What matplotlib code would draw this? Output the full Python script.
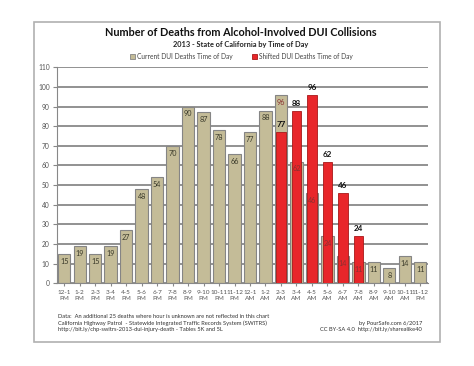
import matplotlib.pyplot as plt
from matplotlib.patches import Rectangle
import numpy as np

plt.rcParams['font.family'] = ['Lato', 'DejaVu Sans']

hours = ['12-1\nPM', '1-2\nPM', '2-3\nPM', '3-4\nPM', '4-5\nPM', '5-6\nPM',
         '6-7\nPM', '7-8\nPM', '8-9\nPM', '9-10\nPM', '10-11\nPM', '11-12\nPM',
         '12-1\nAM', '1-2\nAM', '2-3\nAM', '3-4\nAM', '4-5\nAM', '5-6\nAM',
         '6-7\nAM', '7-8\nAM', '8-9\nAM', '9-10\nAM', '10-11\nAM', '11-12\nPM']
current = [15, 19, 15, 19, 27, 48, 54, 70, 90, 87, 78, 66,
           77, 88, 96, 62, 46, 24, 14, 11, 11, 8, 14, 11]
# shifted series only exists for 2-3 AM .. 7-8 AM
shifted_idx = [14, 15, 16, 17, 18, 19]
shifted = [77, 88, 96, 62, 46, 24]

tan = '#c4bc98'
red = '#e8262a'

fig = plt.figure(figsize=(4.74, 3.66), dpi=100)
fig.patches.append(Rectangle((33.5/474, 1-342/366), (440-33.5)/474, (342-21.5)/366,
                             transform=fig.transFigure, fill=False,
                             edgecolor='#b0b0b0', lw=1.2))

ax = fig.add_axes([56.5/474, 1-283.3/366, (428-56.5)/474, (283.3-67.3)/366])
x = np.arange(len(hours))
ax.bar(x, current, width=0.8, color=tan, edgecolor='#858585', lw=0.8, zorder=2)
ax.bar(shifted_idx, shifted, width=0.6, color=red, edgecolor='#a81818', lw=0.6, zorder=4)

for i, v in enumerate(current):
    c = '#8a3030' if i in shifted_idx else '#3a3a2a'
    ax.text(i, v - 2.0, str(v), ha='center', va='top', fontsize=5.2,
            color=c, zorder=5 if i in shifted_idx else 3)
for i, v in zip(shifted_idx, shifted):
    ax.text(i, v + 2.0, str(v), ha='center', va='bottom', fontsize=5.8,
            fontweight='bold', color='#111111', zorder=6)

ax.set_xlim(-0.5, 23.5)
ax.set_ylim(0, 110)
ax.set_yticks(range(0, 111, 10))
ax.set_xticks(x)
ax.set_xticklabels(hours, fontsize=4.6, color='#555555', linespacing=1.1)
ax.tick_params(axis='y', labelsize=4.8, labelcolor='#555555', length=3,
               color='#888888', width=0.8, pad=2)
ax.tick_params(axis='x', length=2, color='#888888', pad=3)
ax.grid(axis='y', color='#7f7f7f', lw=1.2, zorder=0)
ax.set_axisbelow(True)
for s in ['top', 'right']:
    ax.spines[s].set_visible(False)
ax.spines['left'].set_color('#888888')
ax.spines['bottom'].set_color('#888888')

fig.text(241/474, 1-32.5/366, 'Number of Deaths from Alcohol-Involved DUI Collisions',
         ha='center', va='center', fontsize=7.8, fontweight='bold', color='#111111')
fig.text(241/474, 1-45/366, '2013 - State of California by Time of Day',
         ha='center', va='center', fontsize=5.3, fontweight='bold', color='#222222')

# legend
fig.patches.append(Rectangle((130/474, 1-59/366), 5/474, 5/366, transform=fig.transFigure,
                             facecolor=tan, edgecolor='#858585', lw=0.6))
fig.text(137/474, 1-56.5/366, 'Current DUI Deaths Time of Day', ha='left', va='center',
         fontsize=4.8, color='#444444')
fig.patches.append(Rectangle((252/474, 1-59/366), 5/474, 5/366, transform=fig.transFigure,
                             facecolor=red, edgecolor='#a81818', lw=0.6))
fig.text(259/474, 1-56.5/366, 'Shifted DUI Deaths Time of Day', ha='left', va='center',
         fontsize=4.8, color='#444444')

fig.text(58/474, 1-317/366, 'Data:  An additional 25 deaths where hour is unknown are not reflected in this chart',
         ha='left', va='center', fontsize=4.15, color='#333333')
fig.text(58/474, 1-323.5/366, 'California Highway Patrol  - Statewide Integrated Traffic Records System (SWITRS)',
         ha='left', va='center', fontsize=4.15, color='#333333')
fig.text(58/474, 1-330/366, 'http://bit.ly/chp-switrs-2013-dui-injury-death - Tables 5K and 5L',
         ha='left', va='center', fontsize=4.15, color='#333333')
fig.text(422/474, 1-324/366, 'by PourSafe.com 6/2017', ha='right', va='center',
         fontsize=4.15, color='#333333')
fig.text(422/474, 1-330/366, 'CC BY-SA 4.0  http://bit.ly/sharealike40', ha='right', va='center',
         fontsize=4.15, color='#333333')

fig.savefig('out.png', dpi=100)
